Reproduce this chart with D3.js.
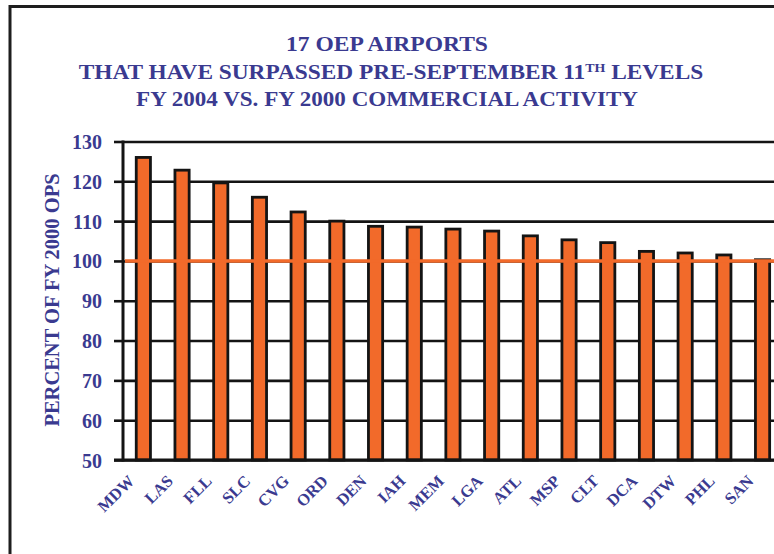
<!DOCTYPE html>
<html>
<head>
<meta charset="utf-8">
<script src="https://cdn.jsdelivr.net/npm/d3@7/dist/d3.min.js"></script>
<style>
  html, body { margin: 0; padding: 0; background: #fff; }
  svg { display: block; }
  text { font-family: "Liberation Serif", "Times New Roman", serif; font-weight: bold; }
</style>
</head>
<body>
<svg id="chart" width="774" height="554"></svg>
<script>
// FY 2004 operations as a percent of FY 2000, by airport
const airports = ["MDW","LAS","FLL","SLC","CVG","ORD","DEN","IAH","MEM","LGA","ATL","MSP","CLT","DCA","DTW","PHL","SAN"];
const percentOfFY2000 = [126, 122.8, 119.6, 116, 112.3, 110, 108.7, 108.5, 108, 107.5, 106.3, 105.3, 104.6, 102.4, 102, 101.5, 100.3];
const yTicks = [50, 60, 70, 80, 90, 100, 110, 120, 130];
const baselineValue = 100;
const titleLines = ["17 OEP AIRPORTS", "THAT HAVE SURPASSED PRE-SEPTEMBER 11", "FY 2004 VS. FY 2000 COMMERCIAL ACTIVITY"];

const W = 774, H = 554;
const ink = "#3a3a90";
const orange = "#f26a2a";
const dark = "#141414";

const svg = d3.select("#chart");

// outer frame
svg.append("path")
  .attr("d", `M10,${H} L10,6.5 L${W},6.5`)
  .attr("fill", "none").attr("stroke", "#1e1e1e").attr("stroke-width", 3);

// stretch a text line horizontally about its centre to a given width
function fitWidth(sel, cx, width) {
  const w = sel.node().getBBox().width;
  const s = width / w;
  sel.attr("transform", `translate(${cx},0) scale(${s},1) translate(${-cx},0)`);
}

// title
const title = svg.append("g").attr("fill", ink).attr("text-anchor", "middle").style("font-size", "21px");
const t1 = title.append("text").attr("x", 387).attr("y", 51).text(titleLines[0]);
const t2 = title.append("text").attr("x", 391).attr("y", 79);
t2.append("tspan").text(titleLines[1]);
t2.append("tspan").attr("dy", -7).style("font-size", "12.5px").text("TH");
t2.append("tspan").attr("dy", 7).text(" LEVELS");
const t3 = title.append("text").attr("x", 387).attr("y", 106).text(titleLines[2]);
fitWidth(t1, 387, 202);
fitWidth(t2, 391, 625);
fitWidth(t3, 387, 502);

// scales
const step = 38.7;
const x = d3.scaleBand()
  .domain(airports)
  .range([124, 124 + step * airports.length])
  .paddingInner(1 - 17 / step)
  .paddingOuter((1 - 17 / step) / 2);

const y = d3.scaleLinear().domain([50, 130]).range([460, 141.5]);
const axisX = 123;

// horizontal grid lines with ticks extending left of the axis
const grid = svg.append("g").attr("transform", `translate(${axisX},0)`)
  .call(d3.axisLeft(y).tickValues(yTicks).tickSize(9).tickFormat(d => d));
grid.select(".domain").remove();
grid.selectAll(".tick line").attr("stroke", dark).attr("stroke-width", 2.6);
grid.selectAll(".tick").append("line")
  .attr("x1", 0).attr("x2", W).attr("stroke", dark).attr("stroke-width", 2.6);
grid.selectAll(".tick text")
  .attr("x", -21).attr("dy", "0.35em")
  .attr("fill", ink).style("font-size", "20px")
  .style("font-family", "'Liberation Serif', 'Times New Roman', serif").style("font-weight", "bold");

// bars
svg.append("g").selectAll("rect").data(airports).join("rect")
  .attr("x", d => x(d) + 1.4)
  .attr("width", x.bandwidth() - 2.8)
  .attr("y", (d, i) => y(percentOfFY2000[i]))
  .attr("height", (d, i) => y(50) - y(percentOfFY2000[i]))
  .attr("fill", orange)
  .attr("stroke", dark).attr("stroke-width", 2.8);

// y axis line and base line
svg.append("line").attr("x1", axisX).attr("x2", axisX).attr("y1", y(130) - 1).attr("y2", y(50) + 1.5)
  .attr("stroke", dark).attr("stroke-width", 3);
svg.append("line").attr("x1", axisX - 9).attr("x2", W).attr("y1", y(50)).attr("y2", y(50))
  .attr("stroke", dark).attr("stroke-width", 3);

// 100% reference line
svg.append("line").attr("x1", axisX + 2).attr("x2", W)
  .attr("y1", y(baselineValue)).attr("y2", y(baselineValue))
  .attr("stroke", orange).attr("stroke-width", 3.5);

// category labels
svg.append("g").selectAll("text").data(airports).join("text")
  .attr("transform", d => `translate(${x(d) + x.bandwidth() / 2 - 8},${y(50) + 22}) rotate(-45)`)
  .attr("text-anchor", "end")
  .attr("fill", ink).style("font-size", "16.5px")
  .text(d => d);

// y axis title
svg.append("text")
  .attr("transform", `translate(59,300) rotate(-90)`)
  .attr("text-anchor", "middle")
  .attr("fill", ink).style("font-size", "20.5px")
  .text("PERCENT OF FY 2000 OPS");
</script>
</body>
</html>
